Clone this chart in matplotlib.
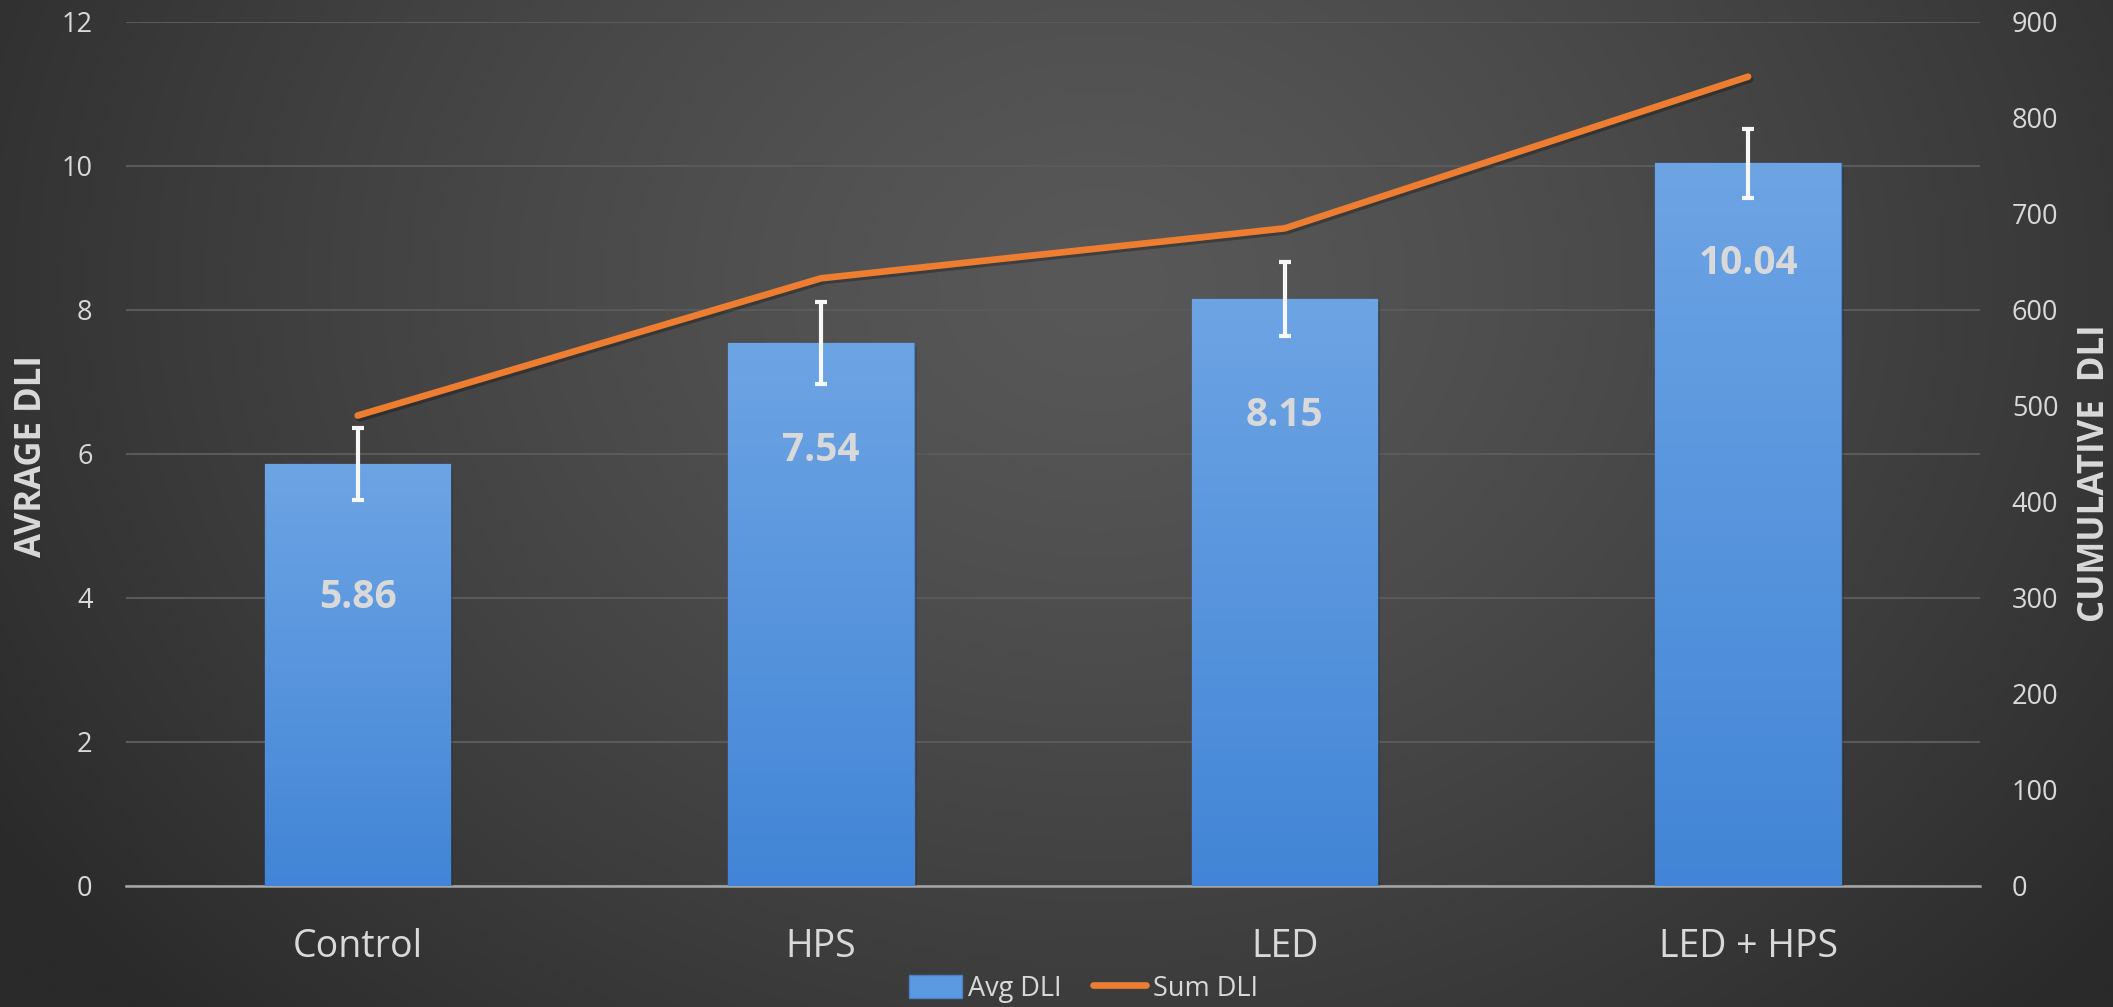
import numpy as np
import matplotlib
matplotlib.use("Agg")
import matplotlib.pyplot as plt
import matplotlib.patheffects as pe
from matplotlib.colors import LinearSegmentedColormap, to_rgb
from matplotlib.patches import Patch
from matplotlib.lines import Line2D

# ---- data ----
categories = ["Control", "HPS", "LED", "LED + HPS"]
avg_dli = [5.86, 7.54, 8.15, 10.04]
avg_err = [0.50, 0.57, 0.51, 0.48]
sum_dli = [490, 633, 685, 843]
left_ticks = [0, 2, 4, 6, 8, 10, 12]
right_ticks = [0, 100, 200, 300, 400, 500, 600, 700, 800, 900]

# ---- layout / style ----
label_drop = [1.85, 1.49, 1.61, 1.39]   # how far below the bar top each value label sits
TXT = "#d9d9d9"
ORANGE = "#ed7d31"
plt.rcParams["font.family"] = ["Open Sans", "DejaVu Sans"]

W, H, DPI = 2113, 1007, 100
fig = plt.figure(figsize=(W / DPI, H / DPI), dpi=DPI)

# dark radial background
bg = fig.add_axes([0, 0, 1, 1], zorder=-10)
yy, xx = np.mgrid[0:1:400j, 0:1:800j]
d = np.sqrt(((xx - 0.52) / 0.62) ** 2 + ((yy - 0.72) / 1.05) ** 2)
d = np.clip(d, 0, 1) ** 1.3
c_in, c_out = np.array(to_rgb("#585858")), np.array(to_rgb("#2a2a2a"))
img = c_in[None, None, :] * (1 - d[..., None]) + c_out[None, None, :] * d[..., None]
bg.imshow(img, extent=[0, 1, 0, 1], origin="lower", aspect="auto")
bg.axis("off")

ax = fig.add_axes([0.0596, 0.1202, 0.8774, 0.8580])
ax.set_facecolor("none")
ax2 = ax.twinx()
ax2.set_facecolor("none")

x = np.arange(len(categories))
width = 0.40
bars = ax.bar(x, avg_dli, width=width, color="#5b9ae0", edgecolor="#4a80c4",
              linewidth=1.0, zorder=3)

# vertical gradient inside each bar
grad_cmap = LinearSegmentedColormap.from_list("bar", ["#4285d6", "#6da4e4"])
grad = np.linspace(0, 1, 256).reshape(-1, 1)
for b in bars:
    x0, y0 = b.get_x(), b.get_y()
    im = ax.imshow(grad, cmap=grad_cmap, origin="lower", aspect="auto",
                   extent=[x0, x0 + b.get_width(), y0, y0 + b.get_height()],
                   zorder=3.1)
    im.set_clip_path(b)
    b.set_path_effects([pe.SimplePatchShadow(offset=(2, -2), alpha=0.3), pe.Normal()])

ax.errorbar(x, avg_dli, yerr=avg_err, fmt="none", ecolor="#f7f7f7",
            elinewidth=3.0, capsize=4.5, capthick=3.0, zorder=5)

for xi, v, dr in zip(x, avg_dli, label_drop):
    ax.text(xi, v - dr, f"{v:.2f}", ha="center", va="center", color=TXT,
            fontsize=28, fontweight="bold", zorder=6)

ax2.plot(x, sum_dli, color=ORANGE, lw=4.8, solid_capstyle="round",
         solid_joinstyle="round", zorder=7,
         path_effects=[pe.SimpleLineShadow(offset=(1.5, -2), alpha=0.28), pe.Normal()])
ax2.set_zorder(ax.get_zorder() + 1)

ax.set_xlim(-0.5, len(categories) - 0.5)
ax.set_ylim(0, 12)
ax2.set_ylim(0, 900)
ax.set_yticks(left_ticks)
ax2.set_yticks(right_ticks)
ax.set_xticks(x)
ax.set_xticklabels(categories)

ax.yaxis.grid(True, color="#5a5a5a", lw=1.5, zorder=0)
ax.set_axisbelow(True)
for a in (ax, ax2):
    for s in a.spines.values():
        s.set_visible(False)
    a.tick_params(length=0, colors=TXT, labelsize=19.5)
ax.spines["bottom"].set_visible(True)
ax.spines["bottom"].set_color("#a6a6a6")
ax.spines["bottom"].set_linewidth(1.8)
ax.tick_params(axis="x", labelsize=27, pad=30)
ax.tick_params(axis="y", pad=24)
ax2.tick_params(axis="y", pad=23)

ax.set_ylabel("AVRAGE DLI", color=TXT, fontsize=25, fontweight="bold",
              va="center", ha="center")
ax.yaxis.set_label_coords(-0.0505, 0.497)
ax2.set_ylabel("CUMULATIVE  DLI", color=TXT, fontsize=25, fontweight="bold",
               va="center", ha="center")
ax2.yaxis.set_label_coords(1.062, 0.478)

handles = [Patch(facecolor="#5b9ae0", edgecolor="#4a80c4", label="Avg DLI"),
           Line2D([], [], color=ORANGE, lw=4.8, solid_capstyle="round", label="Sum DLI")]
fig.legend(handles=handles, loc="lower center", bbox_to_anchor=(0.5127, -0.02), ncol=2,
           frameon=False, fontsize=19.5, labelcolor=TXT, handlelength=1.95,
           handleheight=0.9, handletextpad=0.25, columnspacing=1.15)

fig.savefig("out.png", dpi=DPI)
